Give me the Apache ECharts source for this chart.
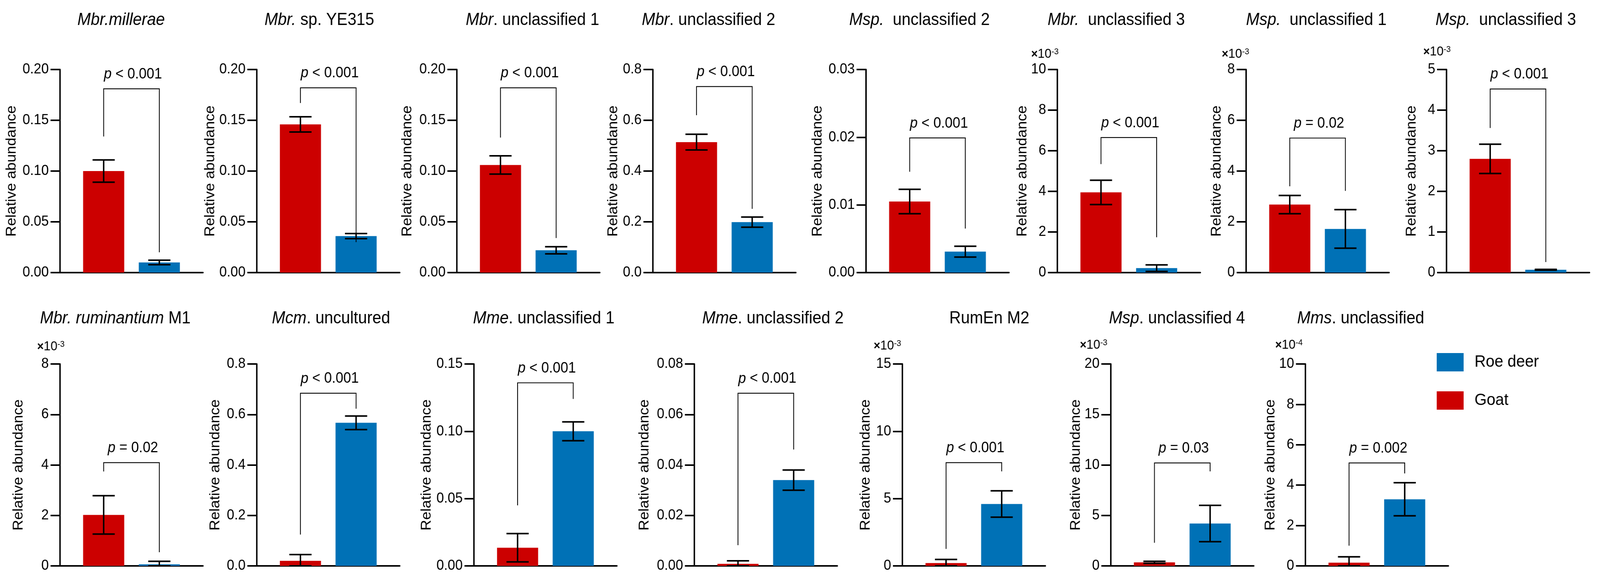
<!DOCTYPE html>
<html>
<head>
<meta charset="utf-8">
<script src="https://cdn.jsdelivr.net/npm/echarts@6/dist/echarts.min.js"></script>
<style>
  html, body { margin: 0; padding: 0; background: #fff; overflow: hidden; }
  #chart { width: 4399px; height: 1480px; transform-origin: 0 0; }
</style>
</head>
<body>
<div id="chart"></div>
<script>
// 15 panels, Goat (red) vs Roe deer (blue), mean ± error, with p-value brackets

// ---- data ----
const panelTitles = [
  '{i|Mbr.millerae}', '{i|Mbr.} sp. YE315', '{i|Mbr}. unclassified 1', '{i|Mbr}. unclassified 2',
  '{i|Msp.}  unclassified 2', '{i|Mbr.}  unclassified 3', '{i|Msp.}  unclassified 1', '{i|Msp.}  unclassified 3',
  '{i|Mbr. ruminantium} M1', '{i|Mcm}. uncultured', '{i|Mme}. unclassified 1', '{i|Mme}. unclassified 2',
  'RumEn M2', '{i|Msp}. unclassified 4', '{i|Mms}. unclassified'
];
const groupNames = ['Goat', 'Roe deer'];
const goatMean = [0.100, 0.146, 0.106, 0.514, 0.0105, 3.95, 2.68, 2.80, 2.02, 0.020, 0.0135, 0.0008, 0.21, 0.35, 0.16];
const goatErr  = [0.011, 0.0075, 0.009, 0.031, 0.0018, 0.60, 0.36, 0.36, 0.76, 0.025, 0.0105, 0.0012, 0.27, 0.10, 0.29];
const roeMean  = [0.010, 0.036, 0.022, 0.199, 0.0031, 0.22, 1.72, 0.07, 0.06, 0.567, 0.100, 0.034, 4.60, 4.20, 3.30];
const roeErr   = [0.0022, 0.0025, 0.0035, 0.020, 0.0008, 0.16, 0.76, 0.01, 0.12, 0.027, 0.007, 0.004, 0.98, 1.80, 0.82];

const axisMax     = [0.20, 0.20, 0.20, 0.8, 0.03, 10, 8, 5, 8, 0.8, 0.15, 0.08, 15, 20, 10];
const axisStep    = [0.05, 0.05, 0.05, 0.2, 0.01, 2, 2, 1, 2, 0.2, 0.05, 0.02, 5, 5, 2];
const labelDigits = [2, 2, 2, 1, 2, 0, 0, 0, 0, 1, 2, 2, 0, 0, 0];
const exponents   = [null, null, null, null, null, -3, -3, -3, -3, null, null, null, -3, -3, -4];

const pLabels = ['< 0.001', '< 0.001', '< 0.001', '< 0.001', '< 0.001', '< 0.001', '= 0.02', '< 0.001',
                 '= 0.02', '< 0.001', '< 0.001', '< 0.001', '< 0.001', '= 0.03', '= 0.002'];
const bracketTop      = [0.181, 0.182, 0.182, 0.733, 0.0199, 6.65, 5.30, 4.52, 4.09, 0.684, 0.136, 0.0684, 7.67, 10.2, 5.10];
const bracketLeftEnd  = [0.134, 0.167, 0.133, 0.620, 0.0149, 5.34, 3.40, 3.56, 3.74, 0.124, 0.045, 0.0082, 1.26, 2.29, 1.00];
const bracketRightEnd = [0.020, 0.030, 0.034, 0.251, 0.0065, 1.74, 3.22, 0.26, 0.54, 0.623, 0.124, 0.0461, 7.02, 9.36, 4.58];

// ---- layout (pixels, in the 4399x1480 design) ----
const DESIGN_W = 4399;
const panelLeft   = [165, 706, 1256, 1795, 2381, 2907, 3426, 3977, 165, 706, 1303, 1909, 2481, 3054, 3589];
const panelRow    = [0, 0, 0, 0, 0, 0, 0, 0, 1, 1, 1, 1, 1, 1, 1];
const rowTop      = [178, 932];
const rowHeight   = [520, 517];
const titleX      = [333, 878, 1464, 1948, 2528, 3069, 3619, 4140, 317, 910, 1495, 2125, 2720, 3236, 3741];
const titleY      = [52, 816];
const nameDist    = [132, 127, 135, 108, 132, 88, 80, 95, 113, 113, 129, 136, 100, 94, 89];
const expDx       = [0, 0, 0, 0, 0, -72, -67, -64, -63, 0, 0, 0, -79, -85, -83];
const expY        = [0, 0, 0, 0, 0, 139, 139, 133, 888, 0, 0, 0, 886, 884, 884];

const GRID_W = 393;
const BAR_W = 113;
const BAR_GAP = 40;
const BAR_OFFSET = (BAR_W + BAR_GAP) / 2;
const CAP_W = 61;
const RED = '#cc0000';
const BLUE = '#0071b6';
const FONT = '"Liberation Sans", Arial, Helvetica, sans-serif';

// the browser window can be narrower than the design: squeeze horizontally to fit
const chartDom = document.getElementById('chart');
if (window.innerWidth < DESIGN_W) {
  chartDom.style.transform = 'scaleX(' + (window.innerWidth / DESIGN_W) + ')';
}

function renderErrorBar(params, api) {
  const side = api.value(3);
  const cx = api.coord([0, 0])[0] + side * BAR_OFFSET;
  const mean = api.value(1), err = api.value(2);
  const yHi = api.coord([0, mean + err])[1];
  const yLo = api.coord([0, Math.max(0, mean - err)])[1];
  const st = { stroke: '#000', lineWidth: 4, fill: null };
  return {
    type: 'group',
    children: [
      { type: 'line', shape: { x1: cx, y1: yHi, x2: cx, y2: yLo }, style: st },
      { type: 'line', shape: { x1: cx - CAP_W / 2, y1: yHi, x2: cx + CAP_W / 2, y2: yHi }, style: st },
      { type: 'line', shape: { x1: cx - CAP_W / 2, y1: yLo, x2: cx + CAP_W / 2, y2: yLo }, style: st }
    ]
  };
}

function makeBracketRenderer(label) {
  return function (params, api) {
    const cx = api.coord([0, 0])[0];
    const xl = cx - BAR_OFFSET, xr = cx + BAR_OFFSET;
    const yt = api.coord([0, api.value(1)])[1];
    const yl = api.coord([0, api.value(2)])[1];
    const yr = api.coord([0, api.value(3)])[1];
    return {
      type: 'group',
      children: [
        {
          type: 'polyline',
          shape: { points: [[xl, yl], [xl, yt], [xr, yt], [xr, yr]] },
          style: { stroke: '#000', lineWidth: 2.2, fill: null }
        },
        {
          type: 'text',
          x: cx + 4,
          y: yt - 37,
          style: {
            text: '{i|p} ' + label,
            fontSize: 38,
            fontFamily: FONT,
            fill: '#000',
            align: 'center',
            verticalAlign: 'middle',
            rich: { i: { fontStyle: 'italic', fontSize: 38, fontFamily: FONT, fill: '#000' } }
          }
        }
      ]
    };
  };
}

const grid = [], xAxis = [], yAxis = [], series = [], graphic = [];

panelTitles.forEach(function (title, i) {
  const row = panelRow[i];
  grid.push({ left: panelLeft[i], top: rowTop[row], width: GRID_W, height: rowHeight[row] });

  xAxis.push({
    type: 'category',
    gridIndex: i,
    data: ['group'],
    axisTick: { show: false },
    axisLabel: { show: false },
    axisLine: { show: true, lineStyle: { color: '#000', width: 4 } }
  });

  yAxis.push({
    type: 'value',
    gridIndex: i,
    min: 0,
    max: axisMax[i],
    interval: axisStep[i],
    splitLine: { show: false },
    axisLine: { show: true, lineStyle: { color: '#000', width: 4 } },
    axisTick: { show: true, length: 26, lineStyle: { color: '#000', width: 4 } },
    axisLabel: {
      margin: 31,
      fontSize: 37,
      color: '#000',
      fontFamily: FONT,
      formatter: function (v) { return v.toFixed(labelDigits[i]); }
    },
    name: 'Relative abundance',
    nameLocation: 'middle',
    nameRotate: 90,
    nameGap: nameDist[i] - 19,
    nameTextStyle: { fontSize: 38, color: '#000', fontFamily: FONT }
  });

  series.push({
    type: 'bar', name: groupNames[0], xAxisIndex: i, yAxisIndex: i,
    data: [goatMean[i]], barWidth: BAR_W, barGap: (BAR_GAP / BAR_W * 100) + '%',
    itemStyle: { color: RED }, z: 2
  });
  series.push({
    type: 'bar', name: groupNames[1], xAxisIndex: i, yAxisIndex: i,
    data: [roeMean[i]], barWidth: BAR_W, barGap: (BAR_GAP / BAR_W * 100) + '%',
    itemStyle: { color: BLUE }, z: 2
  });
  series.push({
    type: 'custom', name: 'err' + i, xAxisIndex: i, yAxisIndex: i,
    renderItem: renderErrorBar, silent: true, z: 3,
    data: [[0, goatMean[i], goatErr[i], -1], [0, roeMean[i], roeErr[i], 1]]
  });
  series.push({
    type: 'custom', name: 'sig' + i, xAxisIndex: i, yAxisIndex: i,
    renderItem: makeBracketRenderer(pLabels[i]), silent: true, z: 3,
    data: [[0, bracketTop[i], bracketLeftEnd[i], bracketRightEnd[i]]]
  });

  // panel title
  graphic.push({
    type: 'text',
    x: titleX[i],
    y: titleY[row],
    style: {
      text: title,
      fontSize: 44,
      fontFamily: FONT,
      fill: '#000',
      align: 'center',
      verticalAlign: 'middle',
      rich: { i: { fontStyle: 'italic', fontSize: 44, fontFamily: FONT, fill: '#000' } }
    }
  });

  // axis multiplier, e.g. ×10^-3
  if (exponents[i] !== null) {
    graphic.push({
      type: 'text',
      x: panelLeft[i] + expDx[i],
      y: expY[i],
      style: {
        text: '{x|×}10{s|' + exponents[i] + '}',
        fontSize: 34,
        fontFamily: FONT,
        fill: '#000',
        align: 'left',
        verticalAlign: 'middle',
        rich: {
          x: { fontSize: 31, fontWeight: 'bold', fontFamily: FONT, fill: '#000' },
          s: { fontSize: 22, fontFamily: FONT, fill: '#000', verticalAlign: 'top' }
        }
      }
    });
  }
});

const chart = echarts.init(chartDom);
chart.setOption({
  animation: false,
  backgroundColor: '#fff',
  grid: grid,
  xAxis: xAxis,
  yAxis: yAxis,
  legend: {
    data: ['Roe deer', 'Goat'],
    orient: 'vertical',
    left: 3950,
    top: 904,
    padding: 0,
    icon: 'rect',
    itemWidth: 74,
    itemHeight: 47,
    itemGap: 51,
    selectedMode: false,
    textStyle: { fontSize: 43, color: '#000', fontFamily: FONT, padding: [0, 0, 0, 25] }
  },
  graphic: graphic,
  series: series
});
</script>
</body>
</html>
